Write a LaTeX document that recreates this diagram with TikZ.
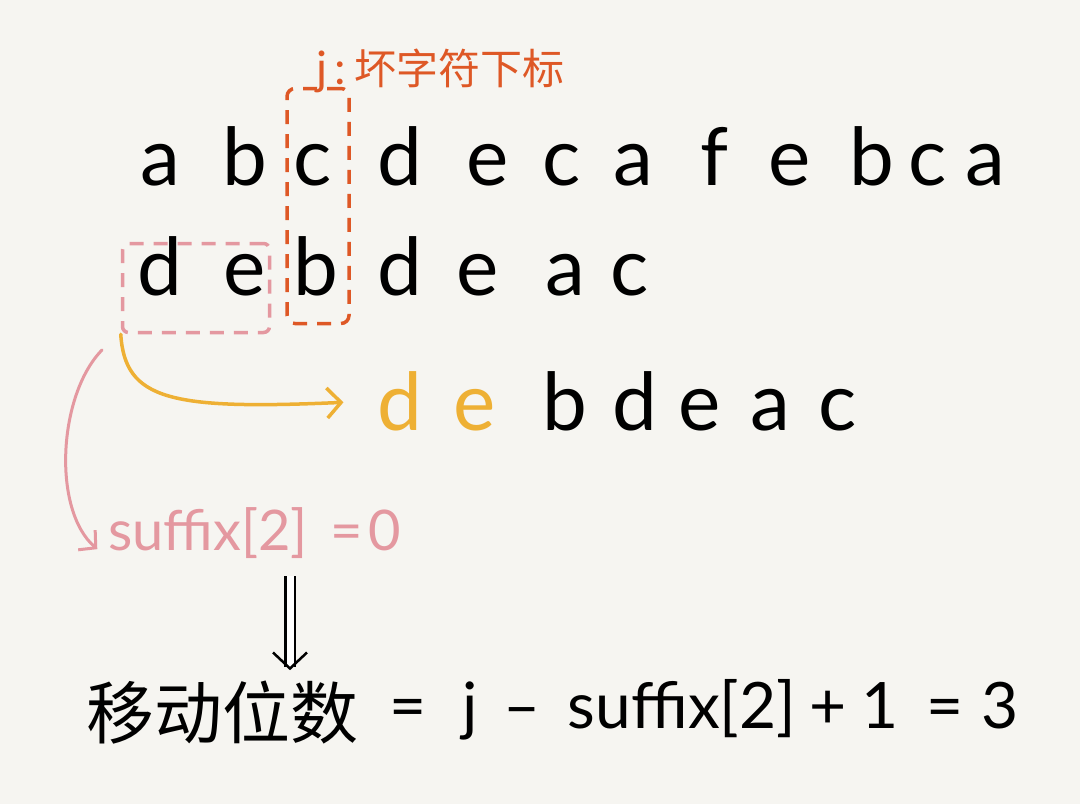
\documentclass[tikz,border=0pt]{standalone}
\usepackage{fontspec}
\setmainfont{Lato}
\newfontfamily\cjk{Noto Sans CJK SC}
\usetikzlibrary{arrows.meta}
\definecolor{bg}{RGB}{246,245,241}
\definecolor{ored}{RGB}{222,88,38}
\definecolor{pinkc}{RGB}{228,152,160}
\definecolor{yell}{RGB}{238,176,52}
\begin{document}
\begin{tikzpicture}[x=1pt,y=-1pt,
  letter/.style={font=\fontsize{80}{80}\selectfont, inner sep=0pt, anchor=base},
  yletter/.style={letter, text=yell},
  obox/.style={draw=ored, line width=3.5pt, dash pattern=on 14pt off 10pt, rounded corners=8pt, minimum width=62pt, minimum height=235pt, inner sep=0pt},
  pbox/.style={draw=pinkc, line width=3.5pt, dash pattern=on 14pt off 10pt, rounded corners=6pt, minimum width=147pt, minimum height=89pt, inner sep=0pt},
  yarrow/.style={draw=yell, line width=3.5pt, line cap=round, -{Straight Barb[length=14pt,width=30pt]}},
  parrow/.style={draw=pinkc, line width=3pt, line cap=round, -{Straight Barb[length=12pt,width=26pt]}},
  dbl/.style={draw=black, line width=2.5pt, double distance=7pt, -{Straight Barb[length=16pt,width=34pt,line width=2.5pt]}},
  lab/.style={font=\fontsize{46}{46}\selectfont, text=ored, inner sep=0pt, anchor=base west},
  pinktext/.style={font=\fontsize{56}{56}\selectfont, text=pinkc, inner sep=0pt, anchor=base},
  form/.style={font=\fontsize{64}{64}\selectfont, inner sep=0pt, anchor=base},
]
\fill[bg] (0,0) rectangle (1080,804);
\useasboundingbox (0,0) rectangle (1080,804);

% row 1
\foreach \ch/\x [count=\i] in {a/160,b/245,c/313,d/400,e/488,c/562,a/633,f/715,e/790,b/872,c/928,a/985}
  \node[letter] (ra\i) at (\x,185) {\ch};
% row 2
\foreach \ch/\x [count=\i] in {d/160,e/245,b/316,d/400,e/478,a/565,c/630}
  \node[letter] (rb\i) at (\x,295) {\ch};
% row 3
\node[yletter] (rc1) at (400,430) {d};
\node[yletter] (rc2) at (475,430) {e};
\foreach \ch/\x [count=\i from 3] in {b/565,d/635,e/700,a/770,c/838}
  \node[letter] (rc\i) at (\x,430) {\ch};

% boxes
\node[obox] (jbox) at (318,206) {};
\node[pbox] (sbox) at (196,288) {};
\node[lab] (jlab) at (316,84) {j\,:\,{\cjk\fontsize{42}{42}\selectfont 坏字符下标}};

% yellow arrow
\draw[yarrow, shorten >=34pt] (sbox.south west) .. controls (125,400) and (170,410) .. (rc1.west);

% pink arrow and suffix
\node[pinktext] (suf) at (208,550) {suffix[2]};
\node[pinktext] (sufeq) at (347,550) {=};
\node[pinktext] (suf0) at (385,550) {0};
\coordinate (ps) at (102,350);
\draw[parrow, shorten >=14pt] (ps) .. controls (58,395) and (52,510) .. (suf.south west);

% bottom formula
\node[form, font=\cjk\fontsize{68}{68}\selectfont] (cn) at (222,738) {移动位数};
\node[form] (f1) at (408,728) {=};
\node[form] (f2) at (470,728) {j};
\node[form] (f3) at (522,728) {–};
\node[form] (f4) at (682,728) {suffix[2]};
\node[form] (f5) at (828,728) {+};
\node[form] (f6) at (880,728) {1};
\node[form] (f7) at (945,728) {=};
\node[form] (f8) at (1000,728) {3};

\coordinate (d1) at (290,576);
\draw[dbl, shorten >=10pt] (d1) -- (d1 |- cn.north);
\end{tikzpicture}
\end{document}
